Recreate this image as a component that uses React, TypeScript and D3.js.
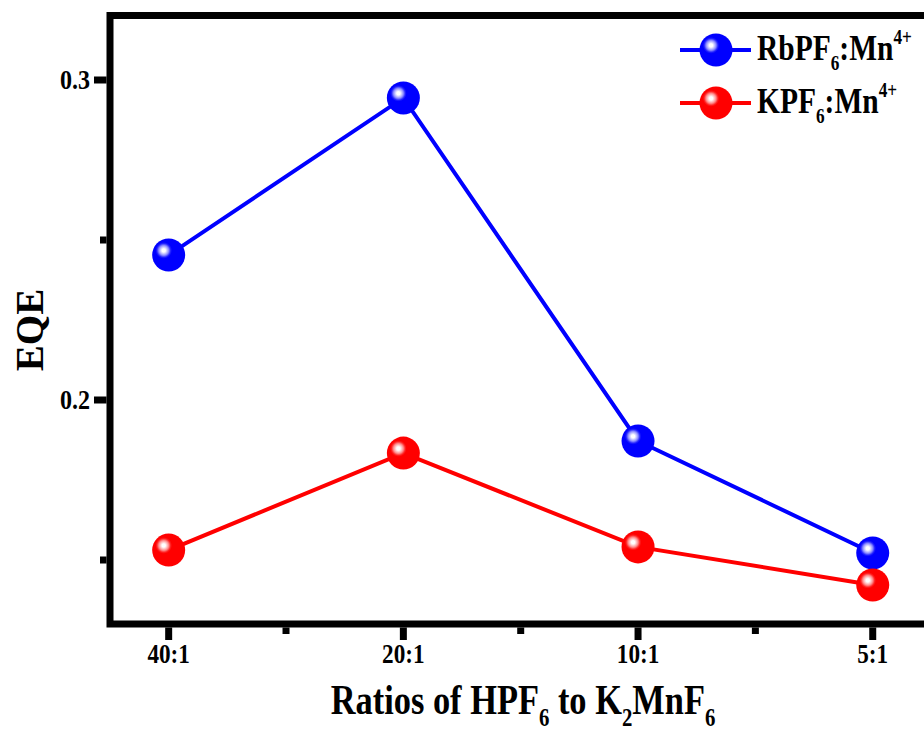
import React from 'react';
import * as d3 from 'd3';

const categories = ['40:1', '20:1', '10:1', '5:1'];
const rbValues = [0.2453, 0.2944, 0.1872, 0.1522];
const kValues = [0.1531, 0.1834, 0.1541, 0.1422];
const yMajorTicks = [0.2, 0.3];
const yMinorTicks = [0.15, 0.25];
const xMinorTicks = [0.5, 1.5, 2.5];
const seriesNames = ['RbPF6:Mn4+', 'KPF6:Mn4+'];

const W = 924;
const H = 733;
const FONT = "'Liberation Serif', 'DejaVu Serif', serif";

type Part = [string, 'n' | 'sub' | 'sup'];

function richParts(parts: Part[], subSize: number, subDy: number, supSize: number, supDy: number) {
  let cur = 0;
  return parts.map(([t, kind], i) => {
    let target = 0;
    let size: number | undefined = undefined;
    if (kind === 'sub') { target = subDy; size = subSize; }
    if (kind === 'sup') { target = supDy; size = supSize; }
    const dy = target - cur;
    cur = target;
    return (
      <tspan key={i} dy={dy} fontSize={size}>{t}</tspan>
    );
  });
}

function Marker({ cx, cy, id }: { cx: number; cy: number; id: string }) {
  return <circle cx={cx} cy={cy} r={16.5} fill={`url(#${id})`} />;
}

export default function App() {
  const x = d3.scaleLinear().domain([-0.25, 3.25]).range([110, 931.4]);
  const y = d3.scaleLinear().domain([0.13, 0.32]).range([624, 16]);
  const line = d3.line<number>().x((_, i) => x(i)).y((d) => y(d));

  const series = [
    { values: rbValues, color: '#0000ff', grad: 'gBlue', name: seriesNames[0] },
    { values: kValues, color: '#ff0000', grad: 'gRed', name: seriesNames[1] },
  ];

  const legendParts: Part[][] = [
    [['RbPF', 'n'], ['6', 'sub'], [':Mn', 'n'], ['4+', 'sup']],
    [['KPF', 'n'], ['6', 'sub'], [':Mn', 'n'], ['4+', 'sup']],
  ];

  const x0 = x.range()[0];
  const x1 = x.range()[1];
  const yTop = y.range()[1] - 0.5;
  const yBot = y.range()[0];

  const textStyle: React.CSSProperties = { fontFamily: FONT, fontWeight: 700 };

  return (
    <svg width={W} height={H} style={{ position: 'absolute', left: 0, top: 0, display: 'block', background: '#fff' }}>
      <defs>
        <radialGradient id="gBlue" cx="0.35" cy="0.36" r="0.5">
          <stop offset="0" stopColor="#ffffff" />
          <stop offset="0.1" stopColor="#ffffff" />
          <stop offset="0.2" stopColor="#c8c8ff" />
          <stop offset="0.3" stopColor="#8c8cff" />
          <stop offset="0.42" stopColor="#2020ff" />
          <stop offset="0.5" stopColor="#0000ff" />
          <stop offset="1" stopColor="#0000ff" />
        </radialGradient>
        <radialGradient id="gRed" cx="0.35" cy="0.36" r="0.5">
          <stop offset="0" stopColor="#ffffff" />
          <stop offset="0.1" stopColor="#ffffff" />
          <stop offset="0.2" stopColor="#ffc8c8" />
          <stop offset="0.3" stopColor="#ff8c8c" />
          <stop offset="0.42" stopColor="#ff2020" />
          <stop offset="0.5" stopColor="#ff0000" />
          <stop offset="1" stopColor="#ff0000" />
        </radialGradient>
      </defs>

      {/* series lines */}
      {series.map((s, si) => (
        <path key={'l' + si} d={line(s.values) || ''} fill="none" stroke={s.color} strokeWidth={4} />
      ))}
      {/* markers */}
      {series.map((s, si) =>
        s.values.map((v, i) => <Marker key={`m${si}-${i}`} cx={x(i)} cy={y(v)} id={s.grad} />)
      )}

      {/* frame */}
      <path d={`M${x1},${yTop}H${x0}V${yBot}H${x1}`} fill="none" stroke="#000" strokeWidth={7} strokeLinejoin="miter" />

      {/* y ticks */}
      {yMajorTicks.map((t) => (
        <line key={'ym' + t} x1={x0 - 3.5} x2={x0 - 16} y1={y(t)} y2={y(t)} stroke="#000" strokeWidth={7} />
      ))}
      {yMinorTicks.map((t) => (
        <line key={'yn' + t} x1={x0 - 3.5} x2={x0 - 10} y1={y(t)} y2={y(t)} stroke="#000" strokeWidth={7} />
      ))}
      {yMajorTicks.map((t) => (
        <g key={'yl' + t} transform={`translate(${x0 - 20},${y(t) + 9}) scale(0.86,1)`}>
          <text textAnchor="end" fontSize={28} fill="#000" style={textStyle}>{d3.format('.1f')(t)}</text>
        </g>
      ))}

      {/* x ticks */}
      {categories.map((c, i) => (
        <line key={'xm' + i} x1={x(i)} x2={x(i)} y1={yBot + 3.5} y2={yBot + 16} stroke="#000" strokeWidth={7} />
      ))}
      {xMinorTicks.map((t) => (
        <line key={'xn' + t} x1={x(t)} x2={x(t)} y1={yBot + 3.5} y2={yBot + 10} stroke="#000" strokeWidth={7} />
      ))}
      {categories.map((c, i) => (
        <g key={'xl' + i} transform={`translate(${x(i)},663) scale(0.86,1)`}>
          <text textAnchor="middle" fontSize={27} fill="#000" style={textStyle}>{c}</text>
        </g>
      ))}

      {/* axis titles */}
      <g transform="translate(523,714) scale(0.8,1)">
        <text textAnchor="middle" fontSize={43} fill="#000" style={textStyle}>
          {richParts([['Ratios of HPF', 'n'], ['6', 'sub'], [' to K', 'n'], ['2', 'sub'], ['MnF', 'n'], ['6', 'sub']], 26, 12, 26, -18)}
        </text>
      </g>
      <g transform="translate(43,330) rotate(-90)">
        <text textAnchor="middle" fontSize={39} fill="#000" style={textStyle}>EQE</text>
      </g>

      {/* legend */}
      {series.map((s, si) => {
        const ly = 50 + si * 53;
        return (
          <g key={'lg' + si}>
            <line x1={680} x2={751} y1={ly} y2={ly} stroke={s.color} strokeWidth={4} />
            <Marker cx={716} cy={ly} id={s.grad} />
            <g transform={`translate(757,${ly + 10}) scale(0.82,1)`}>
              <text fontSize={36} fill="#000" style={textStyle}>
                {richParts(legendParts[si], 21, 10, 21, -16)}
              </text>
            </g>
          </g>
        );
      })}
    </svg>
  );
}
